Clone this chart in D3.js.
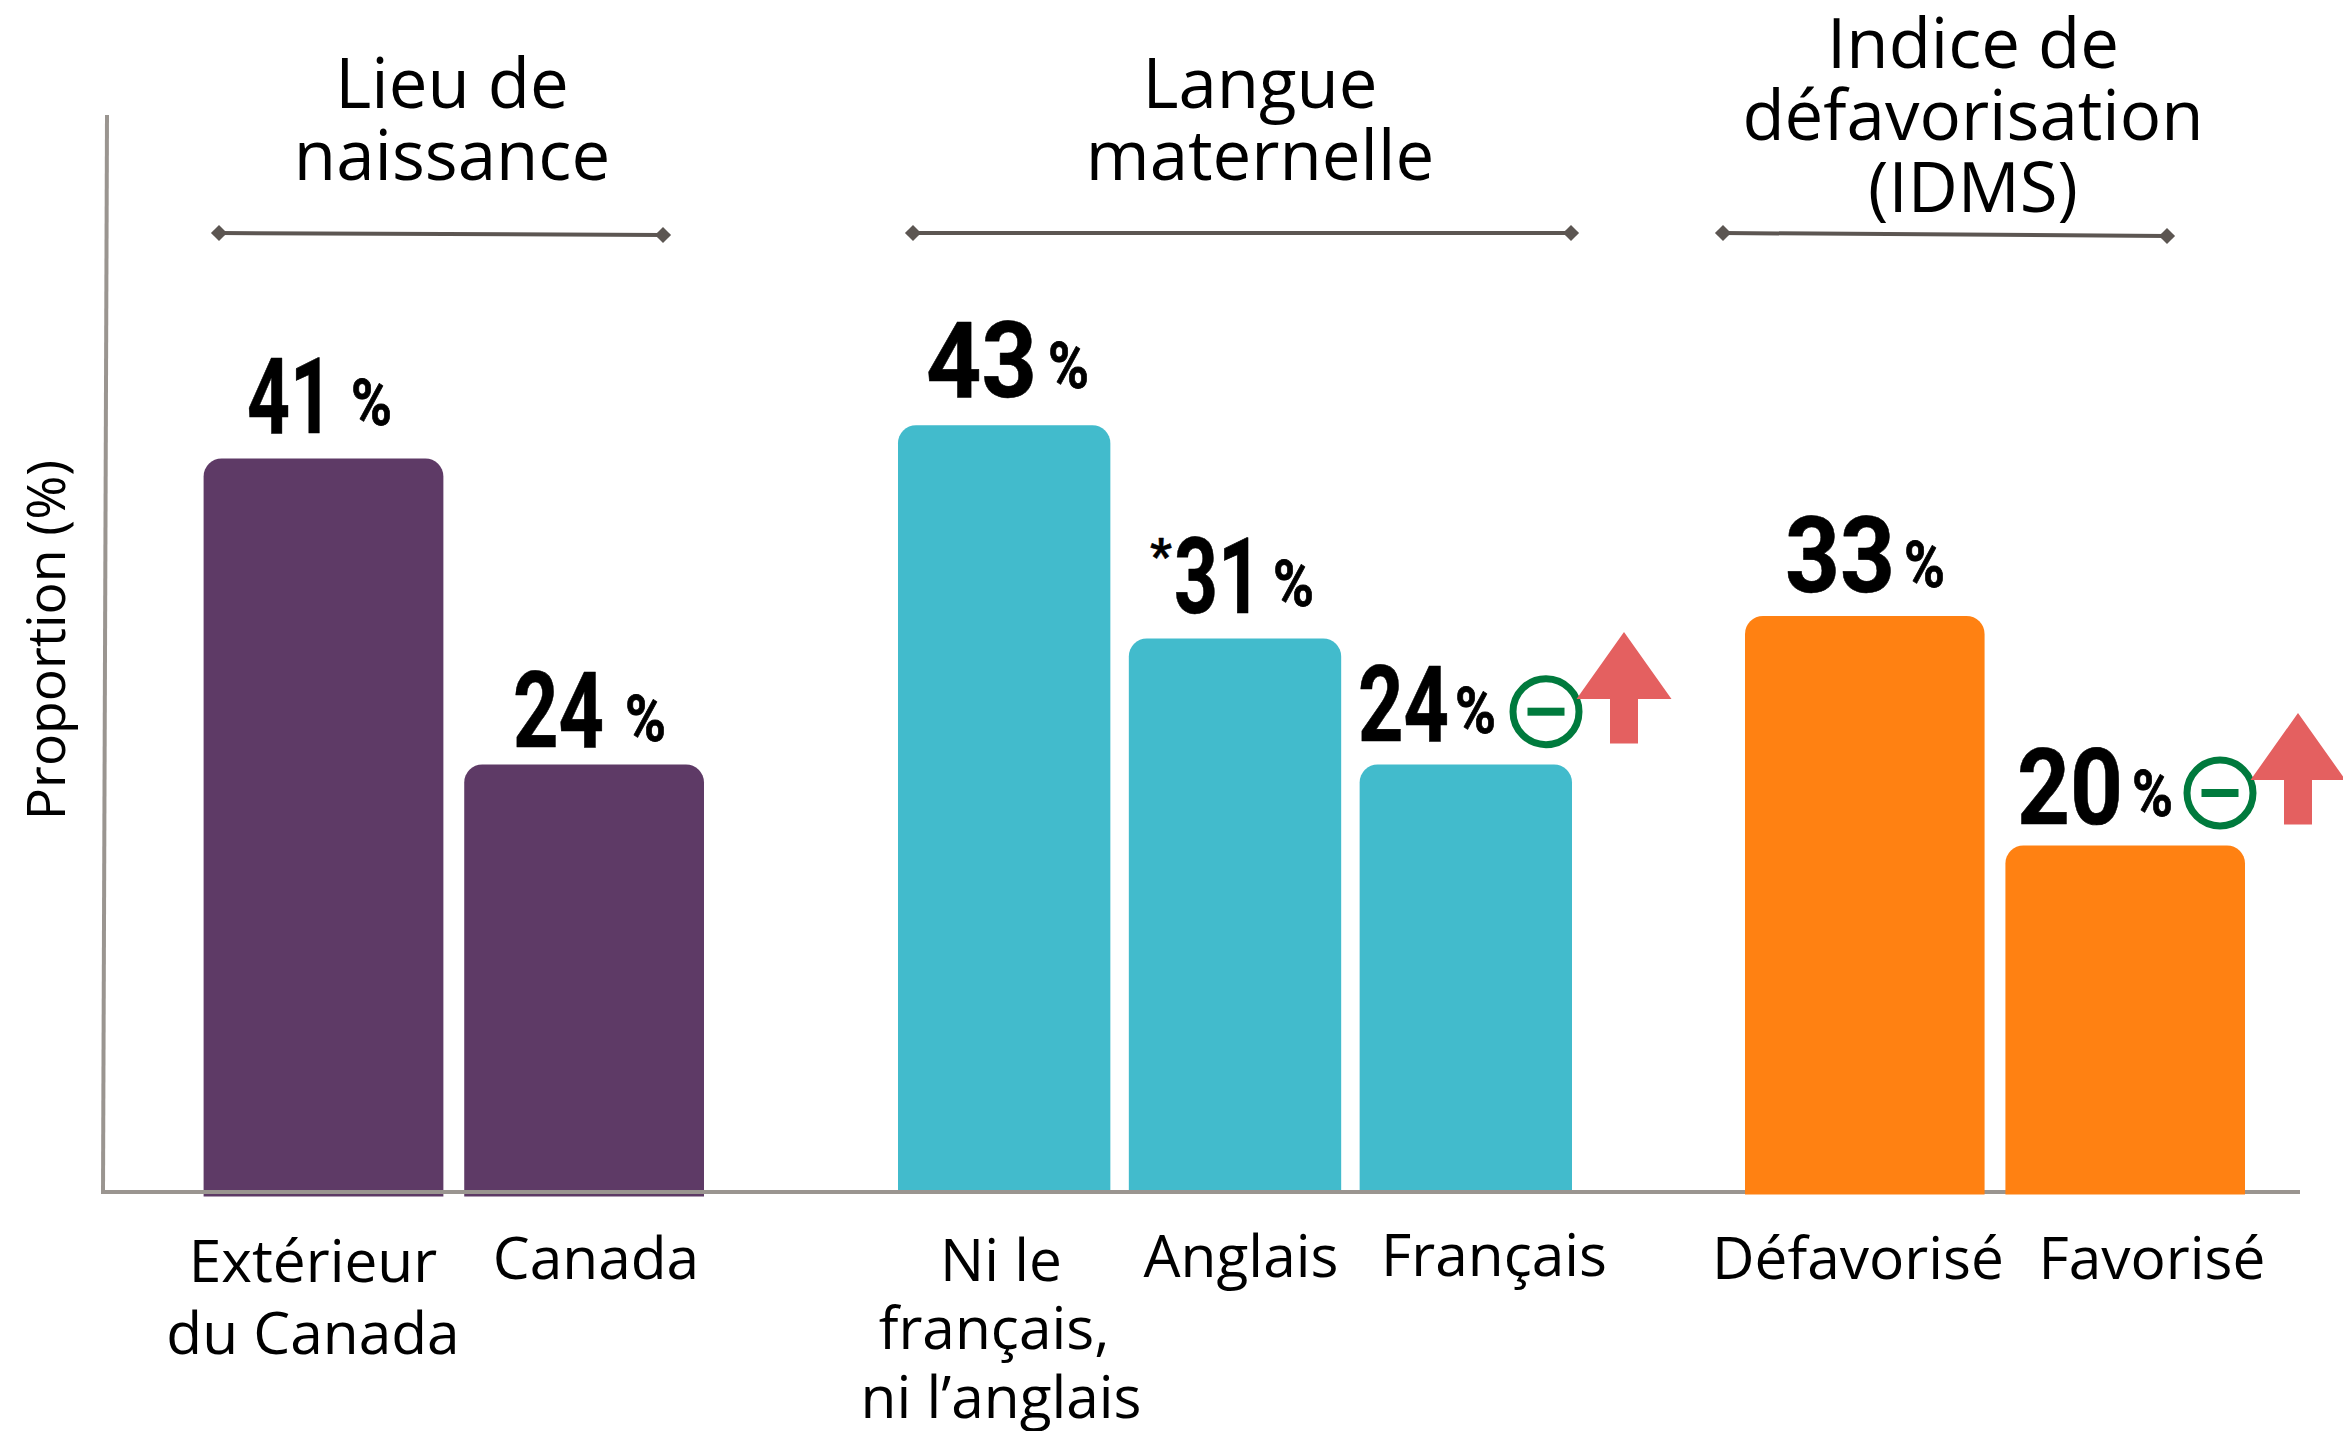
<!DOCTYPE html>
<html><head><meta charset="utf-8">
<script src="https://cdnjs.cloudflare.com/ajax/libs/d3/7.8.5/d3.min.js"></script>
<style>
html,body{margin:0;padding:0;background:#fff;overflow:hidden}
text{font-family:"Open Sans",sans-serif;fill:#000}
.num{font-family:"Liberation Sans Narrow","Roboto",sans-serif;font-weight:700;stroke:#000;stroke-linejoin:round}
</style></head><body><svg id="c" width="2343" height="1431"></svg>
<script>
// Data
const groupNames = ["Lieu de naissance","Langue maternelle","Indice de défavorisation (IDMS)"];
const birthCategories = ["Extérieur du Canada","Canada"];
const birthValues = [41,24];
const languageCategories = ["Ni le français, ni l’anglais","Anglais","Français"];
const languageValues = [42.85,31,24];
const deprivationCategories = ["Défavorisé","Favorisé"];
const deprivationValues = [32.25,19.5];
const birthLabels = ["41","24"];
const languageLabels = ["43","31","24"];
const deprivationLabels = ["33","20"];

// Layout
const W=2343,H=1431;
const y=d3.scaleLinear().domain([0,50]).range([1196.5,296.5]);
const svg=d3.select("#c");
const groups=[
 {cats:birthCategories,vals:birthValues,labs:birthLabels,range:[203.6,704],color:"#5E3A66",bottom:0,
  title:["Lieu de","naissance"],tx:452,ty:[108,180],br:[219,233,663,235],
  lines:[["Extérieur","du Canada"],["Canada"]],lx:[[313,313],[596]],ly:[[1282,1354],[1279]],
  dig:[[247,333,26,351,-8],[513,604,18,625,-6]]},
 {cats:languageCategories,vals:languageValues,labs:languageLabels,range:[898,1572],color:"#42BBCC",bottom:6,
  title:["Langue","maternelle"],tx:1260,ty:[108,180],br:[913,233,1571,233],
  lines:[["Ni le","français,","ni l’anglais"],["Anglais"],["Français"]],lx:[[1001,994,1001],[1241],[1494]],ly:[[1281,1349,1418],[1277],[1276]],
  dig:[[926,1037,28,1048,-9],[1174,1262,26,1273,-7],[1358,1449,24,1455,-8]]},
 {cats:deprivationCategories,vals:deprivationValues,labs:deprivationLabels,range:[1745,2245],color:"#FF8112",bottom:2,
  title:["Indice de","défavorisation","(IDMS)"],tx:1973,ty:[68,140,212],br:[1723,233,2167,236],
  lines:[["Défavorisé"],["Favorisé"]],lx:[[1858],[2152]],ly:[[1279],[1279]],
  dig:[[1785,1895,24,1904,-5],[2017,2123,22,2132,-8]]}
];
function topRounded(x0,x1,y0,y1,r){
  const p=d3.path();
  p.moveTo(x0,y1);p.lineTo(x0,y0+r);p.arcTo(x0,y0,x0+r,y0,r);p.lineTo(x1-r,y0);p.arcTo(x1,y0,x1,y0+r,r);p.lineTo(x1,y1);p.closePath();
  return p.toString();
}
function num(t,x0,x1,base,size,sw){
  svg.append("text").attr("class","num").attr("x",x0).attr("y",base).attr("font-size",size)
   .attr("stroke-width",sw).attr("textLength",x1-x0).attr("lengthAdjust","spacingAndGlyphs").text(t);
}
function drawBars(g){
  const x=d3.scaleBand().domain(g.cats).range(g.range).paddingInner(0.08);
  svg.append("g").selectAll("path").data(g.cats).join("path")
    .attr("fill",g.color)
    .attr("d",(c,i)=>topRounded(x(c),x(c)+x.bandwidth(),y(g.vals[i]),y(0)-g.bottom,18));
}
// purple and teal bars lie under the axis line, orange bars over it
drawBars(groups[0]);drawBars(groups[1]);
const axisColor="#9A9590";
svg.append("line").attr("x1",107).attr("y1",115).attr("x2",103).attr("y2",1194).attr("stroke",axisColor).attr("stroke-width",4);
svg.append("line").attr("x1",105).attr("y1",1192).attr("x2",2300).attr("y2",1192).attr("stroke",axisColor).attr("stroke-width",4);
drawBars(groups[2]);
groups.forEach(g=>{
  g.cats.forEach((c,i)=>{
    const d=g.dig[i],top=y(g.vals[i]),base=top-d[2];
    num(g.labs[i],d[0],d[1],base,106,0.6);
    num("%",d[3],d[3]+41,base+d[4],64,0.8);
    const ta=svg.append("text").attr("text-anchor","middle").attr("font-size",58.6);
    g.lines[i].forEach((l,k)=>ta.append("tspan").attr("x",g.lx[i][k]).attr("y",g.ly[i][k]).text(l));
  });
  const tt=svg.append("text").attr("text-anchor","middle").attr("font-size",69);
  g.title.forEach((l,k)=>tt.append("tspan").attr("x",g.tx).attr("y",g.ty[k]).text(l));
  const [a,b,c,e]=g.br;
  svg.append("line").attr("x1",a).attr("y1",b).attr("x2",c).attr("y2",e).attr("stroke","#5C5652").attr("stroke-width",4);
  [[a,b],[c,e]].forEach(p=>svg.append("path").attr("d",d3.symbol(d3.symbolSquare,130)()).attr("fill","#5C5652")
     .attr("transform",`translate(${p[0]},${p[1]}) rotate(45)`));
});
// asterisk
svg.append("text").attr("class","num").attr("x",1150).attr("y",572).attr("font-size",48).attr("stroke-width",0.5).text("*");
svg.append("text").attr("text-anchor","middle").attr("font-size",53.5).attr("transform","translate(65,640) rotate(-90)").text("Proportion (%)");
// significance marks
function mark(cx,cy,tipx,tipy){
  svg.append("circle").attr("cx",cx).attr("cy",cy).attr("r",33).attr("fill","#fff").attr("stroke","#007A3D").attr("stroke-width",7);
  svg.append("rect").attr("x",cx-18.5).attr("y",cy-4).attr("width",37).attr("height",8).attr("fill","#007A3D");
  const wing=tipy+67,sh=14,hw=47.5,bot=tipy+111.5;
  svg.append("path").attr("fill","#E46060").attr("d",
    `M${tipx},${tipy}L${tipx+hw},${wing}L${tipx+sh},${wing}L${tipx+sh},${bot}L${tipx-sh},${bot}L${tipx-sh},${wing}L${tipx-hw},${wing}Z`);
}
mark(1546,711.7,1624,632);
mark(2220,793,2298,713);
</script></body></html>
